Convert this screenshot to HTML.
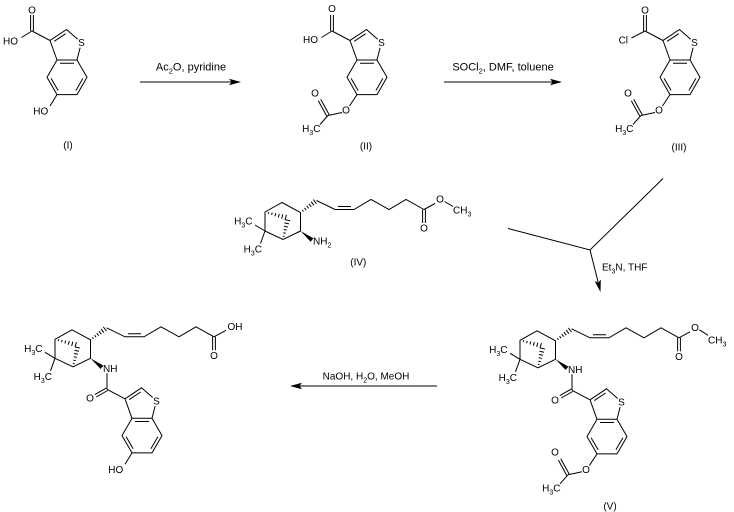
<!DOCTYPE html>
<html><head><meta charset="utf-8"><style>
html,body{margin:0;padding:0;background:#fff;}
svg{display:block;}
text{font-family:"Liberation Sans",Arial,sans-serif;font-size:10px;fill:#000;}
.b{fill:none;stroke:#000;stroke-width:1;}
</style></head><body>
<svg width="734" height="512" viewBox="0 0 734 512" xmlns="http://www.w3.org/2000/svg">
<rect width="734" height="512" fill="#fff"/>

<!-- ===== Molecule I ===== -->
<g>
<path class="b" d="M57,60 L77,60 L87,77.3 L77,94.6 L57,94.6 L47,77.3 Z M57,60 L50,40.5 L66.5,29.5 L77.7,39.2 M80.1,47.8 L77,60 M60,63.2 L74,63.2 M82.9,78.4 L75.9,90.5 M51.1,78.4 L58.1,90.5 M54.2,41.3 L65.7,33.7 M50,40.5 L32,31"/>
<text x="81.5" y="46.1" text-anchor="middle">S</text>
<path class="b" d="M30.6,31 L30.6,15 M33.4,31 L33.4,15 M32,31 L21.5,37.5 M57,94.6 L50,106"/>
<text x="32" y="13.6" text-anchor="middle">O</text>
<text x="10.5" y="44.6" text-anchor="middle">HO</text>
<text x="40.8" y="114.6" text-anchor="middle">HO</text>
<text x="68" y="148.6" text-anchor="middle">(I)</text>
</g>

<!-- ===== Molecule II ===== -->
<g transform="translate(300,0)">
<path class="b" d="M57,60 L77,60 L87,77.3 L77,94.6 L57,94.6 L47,77.3 Z M57,60 L50,40.5 L66.5,29.5 L77.7,39.2 M80.1,47.8 L77,60 M60,63.2 L74,63.2 M82.9,78.4 L75.9,90.5 M51.1,78.4 L58.1,90.5 M54.2,41.3 L65.7,33.7 M50,40.5 L32,31"/>
<text x="81.5" y="46.1" text-anchor="middle">S</text>
<path class="b" d="M30.6,31 L30.6,15 M33.4,31 L33.4,15 M32,31 L21.5,37.5"/>
<text x="32" y="12" text-anchor="middle">O</text>
<text x="10.5" y="43" text-anchor="middle">HO</text>
<!-- acetoxy -->
<path class="b" d="M57,94.6 L49.5,106 M42,112.5 L28,115.5 M29.2,114.8 L20.7,99.3 M26.8,116.2 L18.3,100.7 M28,115.5 L20,124.5"/>
<text x="46" y="113.6" text-anchor="middle">O</text>
<text x="15" y="96.3" text-anchor="middle">O</text>
<text x="20.5" y="132" text-anchor="end">H<tspan dy="3" font-size="7">3</tspan><tspan dy="-3">C</tspan></text>
<text x="66" y="149.6" text-anchor="middle">(II)</text>
</g>

<!-- ===== Molecule III ===== -->
<g transform="translate(613,0)">
<path class="b" d="M57,60 L77,60 L87,77.3 L77,94.6 L57,94.6 L47,77.3 Z M57,60 L50,40.5 L66.5,29.5 L77.7,39.2 M80.1,47.8 L77,60 M60,63.2 L74,63.2 M82.9,78.4 L75.9,90.5 M51.1,78.4 L58.1,90.5 M54.2,41.3 L65.7,33.7 M50,40.5 L32,31"/>
<text x="81.5" y="46.1" text-anchor="middle">S</text>
<path class="b" d="M30.6,31 L30.6,15 M33.4,31 L33.4,15 M32,31 L18.5,38"/>
<text x="32" y="13.6" text-anchor="middle">O</text>
<text x="10.3" y="43.6" text-anchor="middle">Cl</text>
<path class="b" d="M57,94.6 L49.5,106 M42,112.5 L28,115.5 M29.2,114.8 L20.7,99.3 M26.8,116.2 L18.3,100.7 M28,115.5 L20,124.5"/>
<text x="46" y="113.6" text-anchor="middle">O</text>
<text x="15" y="96.3" text-anchor="middle">O</text>
<text x="20.5" y="132" text-anchor="end">H<tspan dy="3" font-size="7">3</tspan><tspan dy="-3">C</tspan></text>
<text x="66" y="150.3" text-anchor="middle">(III)</text>
</g>

<!-- ===== Molecule IV ===== -->
<g>
<path class="b" d="M265,212 L282,202.5 L300.5,212.5 L300.5,231 L283,239.5 L265,231 Z"/>
<path class="b" d="M268.2,213.8 L268.7,212 M271.6,215 L272.2,212.6 M274.95,216.25 L275.75,213.15 M278.3,217.5 L279.3,213.7 M281.7,218.7 L282.8,214.3 M285,220 L286.4,214.8"/>
<path class="b" d="M282.9,236.1 L284.6,236.5 M283.3,232.8 L285.7,233.3 M283.7,229.4 L286.8,230.2 M284.1,226.2 L287.9,227 M284.5,222.9 L289,223.9 M284.9,219.55 L290.1,220.75"/>
<path class="b" d="M265,231 L255,225 M265,231 L260.5,243.5"/>
<text x="252.5" y="224.6" text-anchor="end">H<tspan dy="3" font-size="7">3</tspan><tspan dy="-3">C</tspan></text>
<text x="262" y="252.6" text-anchor="end">H<tspan dy="3" font-size="7">3</tspan><tspan dy="-3">C</tspan></text>
<path class="b" d="M302.36,209.98 L303.44,211.42 M304.55,207.9 L306.05,209.9 M306.74,205.82 L308.66,208.38 M308.93,203.74 L311.27,206.86 M311.12,201.66 L313.88,205.34 M313.31,199.58 L316.49,203.82"/>
<path class="b" d="M316.5,200.5 L335,209.5 L354,209.5 L371,199.5 L389,209.5 L406,199.5 L424,209.5 M338,206.5 L351,206.5 M422.6,209.5 L422.6,223 M425.4,209.5 L425.4,223"/>
<text x="424" y="231.6" text-anchor="middle">O</text>
<polygon points="300.5,231 310.64,241.73 313.36,238.27" fill="#000"/>
<path class="b" d="M424,209.5 L435,203.5 M444.5,201.5 L453,206.5"/>
<text x="440" y="202.6" text-anchor="middle">O</text>
<text x="453" y="213.6">CH<tspan dy="3" font-size="7">3</tspan></text>
<text x="313" y="244.6">NH<tspan dy="3" font-size="7">2</tspan></text>
<text x="358.3" y="265.3" text-anchor="middle">(IV)</text>
</g>

<!-- ===== Molecule V : pinane part ===== -->
<g transform="translate(255,128.3)">
<path class="b" d="M265,212 L282,202.5 L300.5,212.5 L300.5,231 L283,239.5 L265,231 Z"/>
<path class="b" d="M268.2,213.8 L268.7,212 M271.6,215 L272.2,212.6 M274.95,216.25 L275.75,213.15 M278.3,217.5 L279.3,213.7 M281.7,218.7 L282.8,214.3 M285,220 L286.4,214.8"/>
<path class="b" d="M282.9,236.1 L284.6,236.5 M283.3,232.8 L285.7,233.3 M283.7,229.4 L286.8,230.2 M284.1,226.2 L287.9,227 M284.5,222.9 L289,223.9 M284.9,219.55 L290.1,220.75"/>
<path class="b" d="M265,231 L255,225 M265,231 L260.5,243.5"/>
<text x="252.5" y="224.6" text-anchor="end">H<tspan dy="3" font-size="7">3</tspan><tspan dy="-3">C</tspan></text>
<text x="262" y="252.6" text-anchor="end">H<tspan dy="3" font-size="7">3</tspan><tspan dy="-3">C</tspan></text>
<path class="b" d="M302.36,209.98 L303.44,211.42 M304.55,207.9 L306.05,209.9 M306.74,205.82 L308.66,208.38 M308.93,203.74 L311.27,206.86 M311.12,201.66 L313.88,205.34 M313.31,199.58 L316.49,203.82"/>
<path class="b" d="M316.5,200.5 L335,209.5 L354,209.5 L371,199.5 L389,209.5 L406,199.5 L424,209.5 M338,206.5 L351,206.5 M422.6,209.5 L422.6,223 M425.4,209.5 L425.4,223"/>
<text x="424" y="231.6" text-anchor="middle">O</text>
<polygon points="300.5,231 310.64,241.73 313.36,238.27" fill="#000"/>
<path class="b" d="M424,209.5 L435,203.5 M444.5,201.5 L453,207"/>
<text x="440" y="202.6" text-anchor="middle">O</text>
<text x="453" y="215">CH<tspan dy="3" font-size="7">3</tspan></text>
<text x="313" y="244.6">NH</text>
</g>
<!-- ===== Molecule V : benzothiophene part ===== -->
<g transform="translate(540,359.3)">
<path class="b" d="M57,60 L77,60 L87,77.3 L77,94.6 L57,94.6 L47,77.3 Z M57,60 L50,40.5 L66.5,29.5 L77.7,39.2 M80.1,47.8 L77,60 M60,63.2 L74,63.2 M82.9,78.4 L75.9,90.5 M51.1,78.4 L58.1,90.5 M54.2,41.3 L65.7,33.7 M50,40.5 L32,31"/>
<text x="81.5" y="46.1" text-anchor="middle">S</text>
<path class="b" d="M32,31 L32,15 M32.7,32.2 L21.2,38.7 M31.3,29.8 L19.8,36.3"/>
<text x="15" y="44.3" text-anchor="middle">O</text>
<path class="b" d="M57,94.6 L49.5,106 M42,112.5 L28,115.5 M29.2,114.8 L20.7,99.3 M26.8,116.2 L18.3,100.7 M28,115.5 L20,124.5"/>
<text x="46" y="113.6" text-anchor="middle">O</text>
<text x="15" y="96.3" text-anchor="middle">O</text>
<text x="20.5" y="132" text-anchor="end">H<tspan dy="3" font-size="7">3</tspan><tspan dy="-3">C</tspan></text>
<text x="70" y="150.3" text-anchor="middle">(V)</text>
</g>

<!-- ===== Final product : pinane part ===== -->
<g transform="translate(-210,127.3)">
<path class="b" d="M265,212 L282,202.5 L300.5,212.5 L300.5,231 L283,239.5 L265,231 Z"/>
<path class="b" d="M268.2,213.8 L268.7,212 M271.6,215 L272.2,212.6 M274.95,216.25 L275.75,213.15 M278.3,217.5 L279.3,213.7 M281.7,218.7 L282.8,214.3 M285,220 L286.4,214.8"/>
<path class="b" d="M282.9,236.1 L284.6,236.5 M283.3,232.8 L285.7,233.3 M283.7,229.4 L286.8,230.2 M284.1,226.2 L287.9,227 M284.5,222.9 L289,223.9 M284.9,219.55 L290.1,220.75"/>
<path class="b" d="M265,231 L255,225 M265,231 L260.5,243.5"/>
<text x="252.5" y="224.6" text-anchor="end">H<tspan dy="3" font-size="7">3</tspan><tspan dy="-3">C</tspan></text>
<text x="262" y="252.6" text-anchor="end">H<tspan dy="3" font-size="7">3</tspan><tspan dy="-3">C</tspan></text>
<path class="b" d="M302.36,209.98 L303.44,211.42 M304.55,207.9 L306.05,209.9 M306.74,205.82 L308.66,208.38 M308.93,203.74 L311.27,206.86 M311.12,201.66 L313.88,205.34 M313.31,199.58 L316.49,203.82"/>
<path class="b" d="M316.5,200.5 L335,209.5 L354,209.5 L371,199.5 L389,209.5 L406,199.5 L424,209.5 M338,206.5 L351,206.5 M422.6,209.5 L422.6,223 M425.4,209.5 L425.4,223"/>
<text x="424" y="231.6" text-anchor="middle">O</text>
<polygon points="300.5,231 310.64,241.73 313.36,238.27" fill="#000"/>
<path class="b" d="M424,209.5 L436,203"/>
<text x="437.5" y="202.6">OH</text>
<text x="313" y="244.6">NH</text>
</g>
<!-- ===== Final product : benzothiophene part ===== -->
<g transform="translate(75,358.3)">
<path class="b" d="M57,60 L77,60 L87,77.3 L77,94.6 L57,94.6 L47,77.3 Z M57,60 L50,40.5 L66.5,29.5 L77.7,39.2 M80.1,47.8 L77,60 M60,63.2 L74,63.2 M82.9,78.4 L75.9,90.5 M51.1,78.4 L58.1,90.5 M54.2,41.3 L65.7,33.7 M50,40.5 L32,31"/>
<text x="81.5" y="46.1" text-anchor="middle">S</text>
<path class="b" d="M32,31 L32,15 M32.7,32.2 L21.2,38.7 M31.3,29.8 L19.8,36.3"/>
<text x="15" y="43" text-anchor="middle">O</text>
<path class="b" d="M57,94.6 L50,106"/>
<text x="40.8" y="114.6" text-anchor="middle">HO</text>
</g>

<!-- ===== Arrows ===== -->
<line class="b" x1="140" y1="82" x2="232" y2="82"/>
<polygon points="241,82 229,78.8 231.5,82 229,85.2" fill="#000"/>
<text x="191" y="70.5" text-anchor="middle" style="font-size:11px">Ac<tspan dy="3" font-size="7.5">2</tspan><tspan dy="-3">O, pyridine</tspan></text>

<line class="b" x1="444" y1="82" x2="553" y2="82"/>
<polygon points="562,82 550,78.8 552.5,82 550,85.2" fill="#000"/>
<text x="503" y="70.5" text-anchor="middle" style="font-size:11px">SOCl<tspan dy="3" font-size="7.5">2</tspan><tspan dy="-3">, DMF, toluene</tspan></text>

<polyline class="b" points="508,228.5 590,250 663,178.5"/>
<line class="b" x1="590" y1="250" x2="598.3" y2="282.8"/>
<polygon points="600.5,292 600.8,279.55 598.3,282.8 594.6,281.05" fill="#000"/>
<text x="602" y="270.3">Et<tspan dy="3" font-size="7">3</tspan><tspan dy="-3">N, THF</tspan></text>

<line class="b" x1="437" y1="386" x2="299" y2="386"/>
<polygon points="290,386 302,382.8 299.5,386 302,389.2" fill="#000"/>
<text x="366" y="379.5" text-anchor="middle">NaOH, H<tspan dy="3" font-size="7">2</tspan><tspan dy="-3">O, MeOH</tspan></text>
</svg>
</body></html>
